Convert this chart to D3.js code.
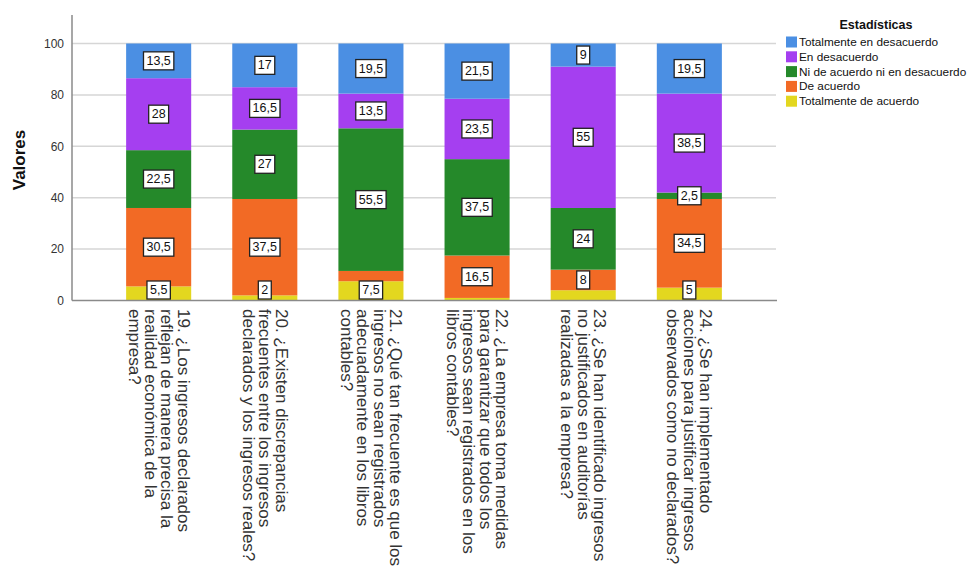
<!DOCTYPE html>
<html>
<head>
<meta charset="utf-8">
<script src="https://cdn.jsdelivr.net/npm/d3@7"></script>
<style>
  html, body { margin: 0; padding: 0; background: #fff; }
  svg { display: block; font-family: "Liberation Sans", Arial, sans-serif; }
</style>
</head>
<body>
<svg id="chart" width="970" height="574"></svg>
<script>
// Question labels (pre-wrapped lines)
const questions = [
  ["19. ¿Los ingresos declarados", "reflejan de manera precisa la", "realidad económica de la", "empresa?"],
  ["20. ¿Existen discrepancias", "frecuentes entre los ingresos", "declarados y los ingresos reales?"],
  ["21. ¿Qué tan frecuente es que los", "ingresos no sean registrados", "adecuadamente en los libros", "contables?"],
  ["22. ¿La empresa toma medidas", "para garantizar que todos los", "ingresos sean registrados en los", "libros contables?"],
  ["23. ¿Se han identificado ingresos", "no justificados en auditorías", "realizadas a la empresa?"],
  ["24. ¿Se han implementado", "acciones para justificar ingresos", "observados como no declarados?"]
];

// Response categories, stacked bottom to top
const categories = [
  "Totalmente de acuerdo",
  "De acuerdo",
  "Ni de acuerdo ni en desacuerdo",
  "En desacuerdo",
  "Totalmente en desacuerdo"
];

// Percentages per question, one array per category
const totalmenteDeAcuerdo   = [5.5, 2, 7.5, 1, 4, 5];
const deAcuerdo             = [30.5, 37.5, 4, 16.5, 8, 34.5];
const niDeAcuerdo           = [22.5, 27, 55.5, 37.5, 24, 2.5];
const enDesacuerdo          = [28, 16.5, 13.5, 23.5, 55, 38.5];
const totalmenteDesacuerdo  = [13.5, 17, 19.5, 21.5, 9, 19.5];

// Segments whose value labels are shown (per category, per question)
const labelShown = [
  [true, true, true, false, false, true],
  [true, true, false, true, true, true],
  [true, true, true, true, true, true],
  [true, true, true, true, true, true],
  [true, true, true, true, true, true]
];

const yTicks = [0, 20, 40, 60, 80, 100];

const colors = ["#e3d71f", "#f26a25", "#25892a", "#a53ff0", "#4b8fe3"];

const seriesValues = [totalmenteDeAcuerdo, deAcuerdo, niDeAcuerdo, enDesacuerdo, totalmenteDesacuerdo];

const rows = questions.map((q, i) => {
  const r = { idx: i };
  categories.forEach((c, k) => { r[c] = seriesValues[k][i]; });
  return r;
});

const svg = d3.select("#chart");

const plot = { left: 72, right: 776, top: 15, bottom: 300.5 };

const x = d3.scaleBand()
  .domain(d3.range(questions.length))
  .range([plot.left, plot.right])
  .paddingInner(0.387)
  .paddingOuter(0.51);

const y = d3.scaleLinear().domain([0, 100]).range([plot.bottom, 43.5]);
const color = d3.scaleOrdinal().domain(categories).range(colors);

// Gridlines
svg.append("g")
  .selectAll("line")
  .data(yTicks.filter(t => t > 0))
  .join("line")
  .attr("x1", plot.left).attr("x2", plot.right)
  .attr("y1", d => y(d)).attr("y2", d => y(d))
  .attr("stroke", "#d6d6d6").attr("stroke-width", 1.5);

// Y axis
const yAxis = svg.append("g")
  .attr("transform", `translate(${plot.left},0)`)
  .call(d3.axisLeft(y).tickValues(yTicks).tickSize(0).tickPadding(8));
yAxis.select(".domain").remove();
yAxis.selectAll("text")
  .attr("font-size", 12).attr("fill", "#333")
  .attr("font-family", "Liberation Sans, Arial, sans-serif");

svg.append("line")
  .attr("x1", plot.left).attr("x2", plot.left)
  .attr("y1", plot.top).attr("y2", plot.bottom)
  .attr("stroke", "#8a8a8a").attr("stroke-width", 1.5);

svg.append("text")
  .attr("transform", `translate(25,160) rotate(-90)`)
  .attr("text-anchor", "middle")
  .attr("font-size", 17).attr("font-weight", "bold").attr("fill", "#111")
  .text("Valores");

// Stacked bars
const stacked = d3.stack().keys(categories)(rows);

const layers = svg.append("g").selectAll("g")
  .data(stacked)
  .join("g")
  .attr("fill", d => color(d.key));

layers.selectAll("rect")
  .data(d => d)
  .join("rect")
  .attr("x", d => x(d.data.idx))
  .attr("width", x.bandwidth())
  .attr("y", d => y(d[1]))
  .attr("height", d => y(d[0]) - y(d[1]));

// X axis line
svg.append("line")
  .attr("x1", plot.left).attr("x2", plot.right + 1)
  .attr("y1", plot.bottom).attr("y2", plot.bottom)
  .attr("stroke", "#8a8a8a").attr("stroke-width", 1.5);

// Value labels
const fmt = v => String(v).replace(".", ",");
const labelsG = svg.append("g");
stacked.forEach((layer, k) => {
  layer.forEach((d, i) => {
    if (!labelShown[k][i]) return;
    const v = d[1] - d[0];
    const cx = x(i) + x.bandwidth() / 2;
    const boxH = 18;
    let cy = (y(d[0]) + y(d[1])) / 2;
    cy = Math.min(cy, plot.bottom - boxH / 2 - 1.5);
    const g = labelsG.append("g");
    const t = g.append("text")
      .attr("x", cx).attr("y", cy)
      .attr("text-anchor", "middle")
      .attr("dominant-baseline", "central")
      .attr("font-size", 12.5).attr("fill", "#111")
      .text(fmt(v));
    const w = t.node().getComputedTextLength() + 6;
    g.insert("rect", "text")
      .attr("x", cx - w / 2).attr("y", cy - boxH / 2)
      .attr("width", w).attr("height", boxH)
      .attr("fill", "#fff").attr("stroke", "#222").attr("stroke-width", 1.3);
  });
});

// Category labels, rotated
const lineH = 16.4;
questions.forEach((lines, i) => {
  const cx = x(i) + x.bandwidth() / 2;
  const t = svg.append("text")
    .attr("transform", `translate(${cx},309) rotate(90)`)
    .attr("font-size", 17).attr("fill", "#333")
    .attr("text-anchor", "start");
  lines.forEach((ln, j) => {
    t.append("tspan")
      .attr("x", 0)
      .attr("y", (j - (lines.length - 1) / 2) * lineH + 5.5)
      .text(ln);
  });
});

// Legend
const legend = svg.append("g");
legend.append("text")
  .attr("x", 876).attr("y", 29)
  .attr("text-anchor", "middle")
  .attr("font-size", 12.5).attr("font-weight", "bold").attr("fill", "#111")
  .text("Estadísticas");

const legendItems = categories.slice().reverse();
legend.selectAll("g.item")
  .data(legendItems)
  .join("g")
  .attr("class", "item")
  .attr("transform", (d, i) => `translate(786,${42 + i * 14.8})`)
  .each(function(d) {
    const g = d3.select(this);
    g.append("rect")
      .attr("x", 0).attr("y", -5.5)
      .attr("width", 11).attr("height", 11)
      .attr("fill", color(d));
    g.append("text")
      .attr("x", 13).attr("y", 0)
      .attr("dominant-baseline", "central")
      .attr("font-size", 11.8).attr("fill", "#111")
      .text(d);
  });
</script>
</body>
</html>
